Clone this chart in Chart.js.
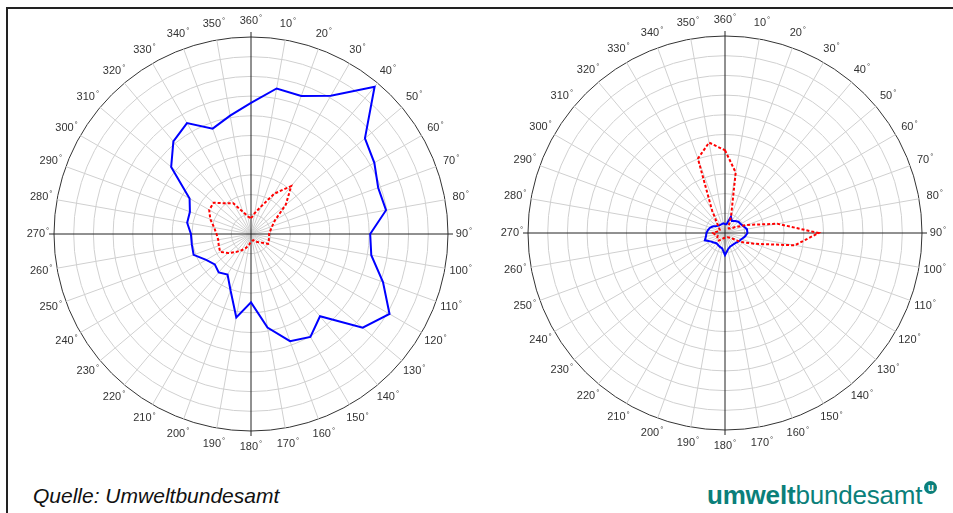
<!DOCTYPE html>
<html>
<head>
<meta charset="utf-8">
<script src="https://cdn.jsdelivr.net/npm/chart.js@4.4.1/dist/chart.umd.min.js"></script>
<style>
    html, body { margin: 0; padding: 0; background: #fff; overflow: hidden; }
    body { width: 953px; height: 513px; position: relative; }
    .frame { position: absolute; left: 6px; top: 7px; right: 0; bottom: 0; border-left: 2px solid #222; border-top: 2px solid #222; }
    .chart-box { position: absolute; width: 456px; height: 460px; }
    #leftBox { left: 23px; top: 4px; }
    #rightBox { left: 497px; top: 3px; }
    .source { position: absolute; left: 33px; top: 485px; font: italic 21px "Liberation Sans", Arial, sans-serif; line-height: 21px; color: #111; }
    .logo { position: absolute; left: 707px; top: 481px; font: 26px "Liberation Sans", Arial, sans-serif; line-height: 26px; color: #0b7f7a; white-space: nowrap; letter-spacing: -0.2px; }
    .logo b { font-weight: bold; }
    .logo .mark { display: inline-block; width: 13px; height: 13px; border-radius: 50%; background: #0b7f7a; color: #fff; font: bold 10px "Liberation Sans", Arial, sans-serif; line-height: 13px; text-align: center; vertical-align: 13px; margin-left: 2px; letter-spacing: 0; }
</style>
</head>
<body>
<div class="frame"></div>
<div class="chart-box" id="leftBox"><canvas id="leftChart" width="456" height="460"></canvas></div>
<div class="chart-box" id="rightBox"><canvas id="rightChart" width="456" height="460"></canvas></div>
<div class="source">Quelle: Umweltbundesamt</div>
<div class="logo"><b>umwelt</b>bundesamt<span class="mark">u</span></div>

<script>
// Richtungen (Grad), Index 0 oben, im Uhrzeigersinn
const directions = ['360', '10', '20', '30', '40', '50', '60', '70', '80', '90', '100', '110',
    '120', '130', '140', '150', '160', '170', '180', '190', '200', '210', '220', '230',
    '240', '250', '260', '270', '280', '290', '300', '310', '320', '330', '340', '350'];

// Ringe 0..10
const ringMax = 10;
const ringStep = 1;

// linkes Diagramm
const leftBlue = [6.66, 7.5, 7.46, 8.1, 9.76, 7.55, 7.23, 6.87, 6.96, 6.05, 6.2, 7.13,
    8.12, 7.4, 5.45, 6.03, 5.79, 4.82, 3.47, 4.3, 3.04, 2.38, 2.55, 2.4,
    2.63, 3.1, 3.05, 3.05, 3.29, 3.3, 3.6, 5.29, 6.13, 6.5, 5.69, 6.1];
const leftRed = [0.8, 1.07, 1.48, 2.36, 3.18, 2.3, 1.41, 1.14, 1.0, 0.92, 0.93, 0.96,
    1.0, 0.68, 0.53, 0.44, 0.33, 0.35, 0.4, 0.55, 0.75, 0.95, 1.2, 1.5,
    1.81, 1.74, 1.69, 1.75, 1.9, 2.2, 2.45, 2.47, 2.03, 1.8, 1.19, 0.91];

// rechtes Diagramm
const rightBlue = [0.45, 0.45, 0.88, 0.7, 0.8, 0.89, 0.92, 1.0, 1.13, 1.14, 1.03, 0.9,
    0.82, 0.75, 0.72, 0.72, 0.74, 0.85, 1.12, 0.8, 0.75, 0.7, 0.68, 0.75,
    0.85, 1.09, 0.98, 0.94, 0.88, 0.8, 0.68, 0.55, 0.5, 0.48, 0.48, 0.5];
const rightRed = [4.2, 3.12, 0.9, 0.35, 0.3, 0.35, 0.6, 1.2, 2.7, 4.75, 3.6, 1.6,
    0.9, 0.4, 0.3, 0.25, 0.25, 0.25, 0.25, 0.25, 0.3, 0.4, 0.5, 0.5,
    0.45, 0.4, 0.5, 0.6, 0.4, 0.3, 0.3, 0.4, 0.6, 1.3, 4.02, 4.66];

const labelFont = '11px "Liberation Sans", Arial, sans-serif';
const degFont = '8px "Liberation Sans", Arial, sans-serif';

// Achsenkreuz + Gradbeschriftung
const compassPlugin = {
    id: 'compass',
    beforeDatasetsDraw(chart) {
        const r = chart.scales.r;
        const ctx = chart.ctx;
        const len = r.drawingArea + 5;
        ctx.save();
        ctx.strokeStyle = '#222';
        ctx.lineWidth = 1;
        ctx.beginPath();
        [[0, 18], [9, 27]].forEach(pair => {
            const a = r.getPointPosition(pair[0], len);
            const b = r.getPointPosition(pair[1], len);
            ctx.moveTo(a.x, a.y);
            ctx.lineTo(b.x, b.y);
        });
        ctx.stroke();
        ctx.restore();
    },
    afterDraw(chart) {
        const r = chart.scales.r;
        const ctx = chart.ctx;
        ctx.save();
        ctx.fillStyle = '#333';
        ctx.textBaseline = 'middle';
        ctx.textAlign = 'left';
        chart.data.labels.forEach((lab, i) => {
            const p = r.getPointPosition(i, r.drawingArea + 16);
            ctx.font = labelFont;
            const w = ctx.measureText(lab).width;
            ctx.font = degFont;
            const dw = ctx.measureText('°').width;
            const x0 = p.x - (w + dw + 1) / 2;
            ctx.font = labelFont;
            ctx.fillText(lab, x0, p.y);
            ctx.font = degFont;
            ctx.fillText('°', x0 + w + 1, p.y - 3);
        });
        ctx.restore();
    }
};

function makeChart(id, blue, red) {
    return new Chart(document.getElementById(id), {
        type: 'radar',
        data: {
            labels: directions,
            datasets: [
                {
                    label: 'rot',
                    data: red,
                    borderColor: '#ff0000',
                    borderWidth: 2,
                    borderDash: [3, 2],
                    pointRadius: 0,
                    fill: false
                },
                {
                    label: 'blau',
                    data: blue,
                    borderColor: '#0000ff',
                    borderWidth: 2,
                    pointRadius: 0,
                    fill: false
                }
            ]
        },
        options: {
            responsive: false,
            animation: false,
            layout: { padding: { left: 31, right: 31, top: 33, bottom: 33 } },
            plugins: {
                legend: { display: false },
                tooltip: { enabled: false }
            },
            scales: {
                r: {
                    min: 0,
                    max: ringMax,
                    ticks: { display: false, stepSize: ringStep },
                    pointLabels: { display: false },
                    grid: {
                        circular: true,
                        lineWidth: 1,
                        color: ctx => ctx.tick && ctx.tick.value === ringMax ? '#333' : '#d0d0d0'
                    },
                    angleLines: {
                        lineWidth: 1,
                        color: ctx => ctx.index % 9 === 0 ? 'rgba(0,0,0,0)' : '#d0d0d0'
                    }
                }
            }
        },
        plugins: [compassPlugin]
    });
}

makeChart('leftChart', leftBlue, leftRed);
makeChart('rightChart', rightBlue, rightRed);
</script>
</body>
</html>
